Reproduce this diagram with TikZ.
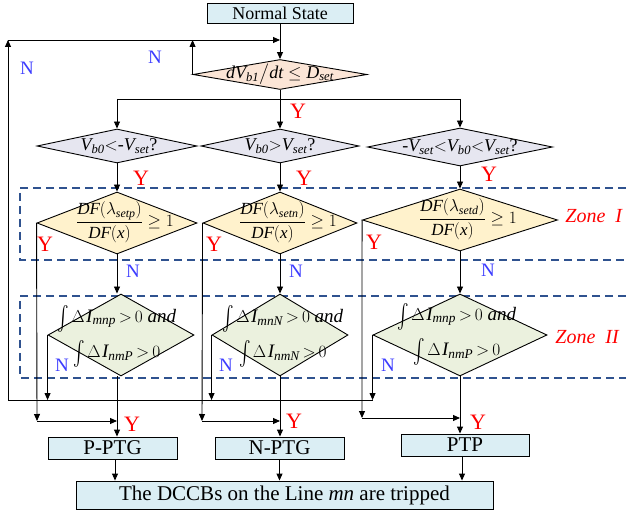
\documentclass[tikz,border=0pt]{standalone}
\usepackage{amsmath}
\usepackage{graphicx}
\usepackage{fontspec}
\setmainfont{Liberation Serif}
\usetikzlibrary{arrows.meta,shapes.geometric}

\definecolor{boxblue}{RGB}{219,238,244}
\definecolor{peach}{RGB}{251,229,214}
\definecolor{lilac}{RGB}{230,230,240}
\definecolor{cream}{RGB}{255,242,204}
\definecolor{sage}{RGB}{235,241,222}
\definecolor{zoneblue}{RGB}{47,82,143}
\definecolor{nblue}{RGB}{60,60,255}

% italic letters in formulas taken from the serif text face
\newcommand{\mt}[1]{\textit{#1}}
% tall integral sign for the current-integral criteria
\newcommand{\tallint}{\raisebox{-0.12em}{\scalebox{1}[1.4]{$\int$}}}
% one line of a zone II criterion
\newcommand{\crit}[1]{\tallint\kern2pt$\Delta\kern1.5pt\mt{I}_{\mt{#1}}\,{>}\,0$}

\begin{document}
\begin{tikzpicture}[x=1pt,y=-1pt,line width=0.9pt,
  >={Triangle[length=7pt,width=6pt]},
  procbox/.style={draw,fill=boxblue,inner sep=0pt,minimum height=22pt,
    font=\fontsize{21}{21}\selectfont},
  decide/.style={draw,shape=diamond,inner sep=0pt},
  dtext/.style={inner sep=0pt,font=\fontsize{18}{18}\selectfont},
  ftext/.style={inner sep=0pt,font=\fontsize{17}{17}\selectfont},
  itext/.style={inner sep=0pt,align=center,font=\fontsize{19}{35}\selectfont},
  ylab/.style={text=red,inner sep=0pt,font=\fontsize{22}{22}\selectfont},
  nlab/.style={text=nblue,inner sep=0pt,font=\fontsize{19}{19}\selectfont},
  zone/.style={draw=zoneblue,line width=1.2pt,dash pattern=on 8pt off 5pt},
  zlab/.style={text=red,inner sep=0pt,font=\fontsize{20}{20}\selectfont\itshape}]
\useasboundingbox (0,0) rectangle (626,510);

% protection zones
\draw[zone] (626,188) -- (20,188) -- (20,260) -- (626,260);
\draw[zone] (626,296) -- (20,296) -- (20,378) -- (626,378);
\node[zlab,anchor=west] (zI) at (565,216) {Zone\ \ I};
\node[zlab,anchor=west] (zII) at (555,337) {Zone\ \ II};

% start and voltage-derivative check
\node[procbox,minimum width=146pt,minimum height=20pt,
  font=\fontsize{18}{18}\selectfont] (ns) at (280,13) {Normal State};
\node[decide,fill=peach,minimum width=174pt,minimum height=30pt] (D1) at (280,74.5) {};
\node[dtext] (D1t) at (280,74) {$\mt{dV}_{\mt{b1}}\big/\mt{dt} \le \mt{D}_{\mt{set}}$};

% pole-voltage checks
\node[decide,fill=lilac,minimum width=160pt,minimum height=34pt] (D2a) at (117,146) {};
\node[decide,fill=lilac,minimum width=158pt,minimum height=34pt] (D2b) at (280,146) {};
\node[decide,fill=lilac,minimum width=185pt,minimum height=38pt] (D2c) at (460,147) {};
\node[dtext] (D2at) at (119,146) {$\mt{V}_{\mt{b0}}{<}\text{-}\mt{V}_{\mt{set}}$?};
\node[dtext] (D2bt) at (280,146) {$\mt{V}_{\mt{b0}}{>}\mt{V}_{\mt{set}}$?};
\node[dtext] (D2ct) at (460,147) {-$\mt{V}_{\mt{set}}{<}\mt{V}_{\mt{b0}}{<}\mt{V}_{\mt{set}}$?};

% zone I criteria
\node[decide,fill=cream,minimum width=160pt,minimum height=62pt] (D3a) at (117,223) {};
\node[decide,fill=cream,minimum width=154pt,minimum height=62pt] (D3b) at (280,223) {};
\node[decide,fill=cream,minimum width=195pt,minimum height=62pt] (D3c) at (460,220) {};
\node[ftext] (D3at) at (125,222) {$\dfrac{\mt{DF}(\lambda_{\mt{setp}})}{\mt{DF}(\mt{x})}\ge 1$};
\node[ftext] (D3bt) at (288,222) {$\dfrac{\mt{DF}(\lambda_{\mt{setn}})}{\mt{DF}(\mt{x})}\ge 1$};
\node[ftext] (D3ct) at (468,219) {$\dfrac{\mt{DF}(\lambda_{\mt{setd}})}{\mt{DF}(\mt{x})}\ge 1$};

% zone II criteria
\node[decide,fill=sage,minimum width=146pt,minimum height=82pt] (D4a) at (121,335) {};
\node[decide,fill=sage,minimum width=136pt,minimum height=82pt] (D4b) at (280,335) {};
\node[decide,fill=sage,minimum width=174pt,minimum height=82pt] (D4c) at (460,335) {};
\node[itext] (D4at) at (117,336) {\crit{mnp} \mt{and}\\\crit{nmP}};
\node[itext] (D4bt) at (283,336) {\crit{mnN} \mt{and}\\\crit{nmN}};
\node[itext] (D4ct) at (457,334) {\crit{mnp} \mt{and}\\\crit{nmP}};

% protection actions
\node[procbox,minimum width=129pt] (pp) at (112.5,448) {P-PTG};
\node[procbox,minimum width=129pt] (np) at (279.5,448) {N-PTG};
\node[procbox,minimum width=128pt] (tp) at (465,445) {PTP};
\node[procbox,minimum width=417pt,minimum height=28pt] (trip) at (284.5,495)
  {The DCCBs on the Line \textit{mn} are tripped};

% junction points
\coordinate (top) at (8,40);
\coordinate (loop) at (8,400);
\coordinate (split) at (280,99);
\coordinate (ya) at (37,421);
\coordinate (yb) at (202,421);
\coordinate (yc) at (362,418);

% main flow
\draw[->] (ns) -- (D1);
\draw (D1.south) -- (split);
\draw (D2a.north |- split) -- (D2c.north |- split);
\draw[->] (D2a.north |- split) -- (D2a.north);
\draw[->] (split) -- (D2b.north);
\draw[->] (D2c.north |- split) -- (D2c.north);
\draw[->] (D2a) -- (D3a);
\draw[->] (D2b) -- (D3b);
\draw[->] (D2c) -- (D3c);
\draw[->] (D3a.south) -- (D3a.south |- D4a.north);
\draw[->] (D3b) -- (D4b);
\draw[->] (D3c) -- (D4c);
\draw[->] (D3a.south |- D4a.south) -- (D3a.south |- pp.north);
\draw[->] (D4b.south) -- (D4b.south |- np.north);
\draw[->] (D4c.south) -- (D4c.south |- tp.north);

% zone I trips straight to the actions
\draw[->] (D3a.west) -- (ya);
\draw[->] (ya) -- (ya -| D3a.south);
\draw[->] (D3b.west) -- (yb);
\draw[->] (yb) -- (yb -| D4b.south);
\draw[->] (D3c.west) -- (yc);
\draw[->] (yc) -- (yc -| D4c.south);

% zone II failures return to monitoring
\draw (loop) -- (loop -| D4c.west);
\draw[->] (D4a.west) -- (D4a.west |- loop);
\draw[->] (D4b.west) -- (D4b.west |- loop);
\draw[->] (D4c.west) -- (D4c.west |- loop);
\draw[->] (loop) -- (top);
\draw[->] (top) -- (top -| ns.south);
\draw[->] (D1.west) -- (D1.west |- top);

% actions to breaker tripping
\draw[->] (pp.south -| 115,0) -- (trip.north -| 115,0);
\draw[->] (np.south) -- (np.south |- trip.north);
\draw[->] (tp.south -| 462,0) -- (trip.north -| 462,0);

% branch labels
\node[nlab] (n0) at (27,68) {N};
\node[nlab] (n1) at (155,57) {N};
\node[ylab] (y1) at (298,111) {Y};
\node[ylab] (y2a) at (141,178) {Y};
\node[ylab] (y2b) at (304,178) {Y};
\node[ylab] (y2c) at (489,174) {Y};
\node[ylab] (y3a) at (45,244) {Y};
\node[ylab] (y3b) at (214,244) {Y};
\node[ylab] (y3c) at (374,242) {Y};
\node[nlab] (n3a) at (133,271) {N};
\node[nlab] (n3b) at (296,271) {N};
\node[nlab] (n3c) at (488,270) {N};
\node[nlab] (n4a) at (62,365) {N};
\node[nlab] (n4b) at (226,365) {N};
\node[nlab] (n4c) at (388,365) {N};
\node[ylab] (y4a) at (132,424) {Y};
\node[ylab] (y4b) at (294,421) {Y};
\node[ylab] (y4c) at (478,422) {Y};
\end{tikzpicture}
\end{document}
